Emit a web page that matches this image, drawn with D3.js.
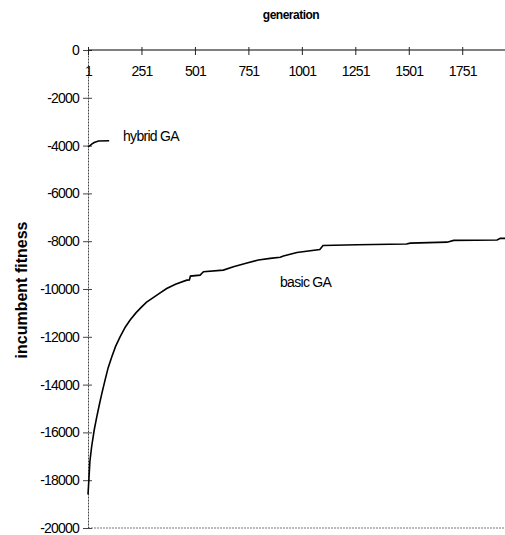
<!DOCTYPE html>
<html>
<head>
<meta charset="utf-8">
<script src="https://cdn.jsdelivr.net/npm/d3@7"></script>
<style>
  body { margin: 0; background: #fff; }
  svg { font-family: "Liberation Sans", Arial, sans-serif; }
</style>
</head>
<body>
<svg id="chart" width="505" height="535"></svg>
<script>
// data
var genTicks = [1, 251, 501, 751, 1001, 1251, 1501, 1751];
var fitTicks = [0, -2000, -4000, -6000, -8000, -10000, -12000, -14000, -16000, -18000, -20000];

var basicGen = [1, 5, 10, 18, 30, 42, 55, 65, 81, 95, 112, 130, 151, 175, 198, 225, 252, 275, 299, 335, 369, 410, 463, 475, 480, 525, 541, 634, 681, 740, 798, 853, 900, 915, 978, 1085, 1100, 1259, 1490, 1508, 1680, 1711, 1914, 1929, 1951];
var basicFit = [-18600, -18000, -17200, -16600, -15900, -15350, -14800, -14400, -13800, -13300, -12850, -12400, -12000, -11600, -11300, -11000, -10750, -10550, -10400, -10180, -9980, -9800, -9630, -9620, -9460, -9420, -9280, -9210, -9070, -8920, -8790, -8720, -8670, -8620, -8470, -8350, -8180, -8150, -8120, -8080, -8040, -7965, -7950, -7880, -7880];

var hybridGen = [1, 10, 20, 30, 40, 50, 100];
var hybridFit = [-4050, -4000, -3930, -3870, -3840, -3810, -3800];

var svg = d3.select("#chart");

var x = d3.scaleLinear().domain([1, 1951]).range([88, 505]);
var y = d3.scaleLinear().domain([-20000, 0]).range([528, 50]);

// bottom frame line
svg.append("line")
    .attr("x1", x(1)).attr("x2", 505)
    .attr("y1", y(-20000)).attr("y2", y(-20000))
    .attr("stroke", "#777")
    .attr("stroke-dasharray", "2,1");

// y axis
var yAxis = svg.append("g")
    .attr("transform", "translate(" + x(1) + ",0)")
    .call(d3.axisLeft(y).tickValues(fitTicks).tickFormat(function(d) { return String(d); })
        .tickSize(5).tickSizeOuter(0));
yAxis.select(".domain").attr("stroke", "#444").attr("stroke-dasharray", "2,1");
yAxis.selectAll(".tick line").attr("x1", 4).attr("x2", -5).attr("stroke", "#444");
yAxis.selectAll(".tick text")
    .attr("x", -9)
    .style("font-size", "14px")
    .style("letter-spacing", "-0.8px")
    .attr("fill", "#000");

// x axis along the top (value 0)
var xAxis = svg.append("g")
    .attr("transform", "translate(0," + y(0) + ")")
    .call(d3.axisBottom(x).tickValues(genTicks).tickFormat(d3.format("d")).tickSize(5).tickSizeOuter(0));
xAxis.select(".domain").attr("stroke", "#000").attr("d", "M" + x(1) + ",0H505");
xAxis.selectAll(".tick line").attr("y1", -3).attr("y2", 5).attr("stroke", "#222");
xAxis.selectAll(".tick text")
    .attr("y", 16)
    .style("font-size", "14px")
    .style("letter-spacing", "-0.8px")
    .attr("fill", "#000");

// lines
var line = d3.line()
    .x(function(d) { return x(d[0]); })
    .y(function(d) { return y(d[1]); });

var basic = d3.zip(basicGen, basicFit);
var hybrid = d3.zip(hybridGen, hybridFit);

svg.append("path")
    .datum(basic)
    .attr("d", line)
    .attr("fill", "none")
    .attr("stroke", "#000")
    .attr("stroke-width", 1.6);

svg.append("path")
    .datum(hybrid)
    .attr("d", line)
    .attr("fill", "none")
    .attr("stroke", "#000")
    .attr("stroke-width", 1.6);

// labels
svg.append("text")
    .attr("x", 123).attr("y", 141)
    .style("font-size", "14px")
    .style("letter-spacing", "-0.7px")
    .text("hybrid GA");

svg.append("text")
    .attr("x", 280).attr("y", 287)
    .style("font-size", "14px")
    .style("letter-spacing", "-0.7px")
    .text("basic GA");

svg.append("text")
    .attr("x", 291).attr("y", 19)
    .attr("text-anchor", "middle")
    .style("font-size", "12px")
    .style("font-weight", "bold")
    .style("letter-spacing", "-0.5px")
    .text("generation");

svg.append("text")
    .attr("transform", "translate(27,290) rotate(-90)")
    .attr("text-anchor", "middle")
    .style("font-size", "16px")
    .style("font-weight", "bold")
    .text("incumbent fitness");
</script>
</body>
</html>
